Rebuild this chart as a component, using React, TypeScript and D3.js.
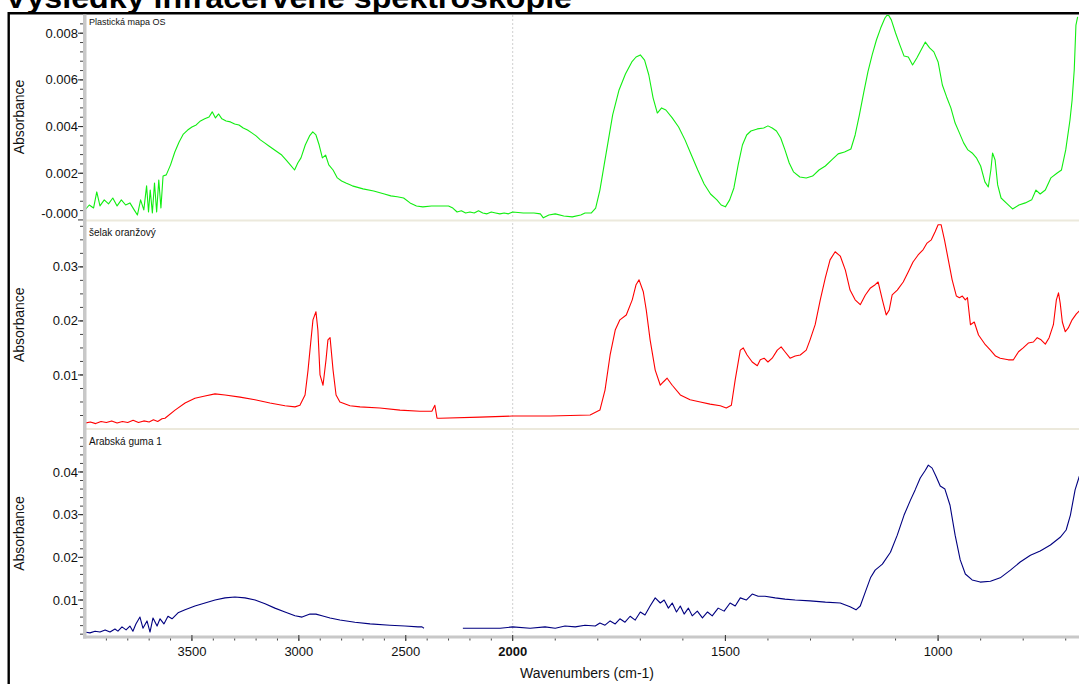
import * as d3 from 'd3';

const chartTitle = 'Výsledky infračervené spektroskopie';
const xAxisTitle = 'Wavenumbers (cm-1)';
const yAxisTitle = 'Absorbance';
const panelNames = ['Plastická mapa OS', 'šelak oranžový', 'Arabská guma 1'];

// wavenumber axis has a scale break at 2000 (left side is compressed 2x)
const wavenumberDomain = [4000, 2000, 650];
const wavenumberTicks = [3500, 3000, 2500, 2000, 1500, 1000];

const plasticLimits = [0.00004, 0.00878];
const plasticTicks = [0, 0.002, 0.004, 0.006, 0.008];
const plasticTickLabels = ['-0.000', '0.002', '0.004', '0.006', '0.008'];

const shellacLimits = [0.00028, 0.0383];
const shellacTicks = [0.01, 0.02, 0.03];
const shellacTickLabels = ['0.01', '0.02', '0.03'];

const gumLimits = [0.00157, 0.0496];
const gumTicks = [0.01, 0.02, 0.03, 0.04];
const gumTickLabels = ['0.01', '0.02', '0.03', '0.04'];

const plasticSpectrum: [number, number][] = [
  [4000, 0.00043], [3980, 0.00064], [3960, 0.00051], [3945, 0.0012], [3930, 0.0006], [3910, 0.00086],
  [3890, 0.00069], [3870, 0.00094], [3850, 0.0006], [3830, 0.00086], [3810, 0.00064], [3790, 0.00073],
  [3770, 0.00043], [3755, 0.00021], [3740, 0.00086], [3725, 0.00043], [3712, 0.00146], [3703, 0.00034],
  [3695, 0.00128], [3685, 0.0003], [3675, 0.00158], [3665, 0.00034], [3655, 0.00171], [3645, 0.00051],
  [3635, 0.00188], [3620, 0.00193], [3600, 0.00236], [3580, 0.00291], [3560, 0.00334], [3540, 0.00368],
  [3520, 0.00385], [3500, 0.00398], [3480, 0.00407], [3460, 0.00424], [3440, 0.00433], [3420, 0.00441],
  [3405, 0.00463], [3390, 0.00437], [3375, 0.00454], [3360, 0.00433], [3340, 0.00424], [3320, 0.0042],
  [3300, 0.00411], [3280, 0.00407], [3260, 0.00394], [3240, 0.00385], [3220, 0.00373], [3200, 0.0036],
  [3180, 0.00343], [3160, 0.0033], [3140, 0.00317], [3120, 0.00304], [3100, 0.00291], [3080, 0.00278],
  [3060, 0.00257], [3040, 0.00236], [3020, 0.00214], [3005, 0.00244], [2990, 0.00266], [2970, 0.00321],
  [2950, 0.0036], [2935, 0.00377], [2920, 0.00364], [2905, 0.00321], [2890, 0.00266], [2875, 0.00278],
  [2860, 0.00236], [2840, 0.00214], [2820, 0.0018], [2800, 0.00167], [2780, 0.00158], [2750, 0.00146],
  [2700, 0.00133], [2650, 0.00124], [2600, 0.00111], [2570, 0.00103], [2540, 0.00099], [2510, 0.00094],
  [2480, 0.00073], [2450, 0.0006], [2420, 0.00056], [2380, 0.0006], [2340, 0.0006], [2300, 0.0006],
  [2280, 0.00051], [2260, 0.00034], [2240, 0.00039], [2220, 0.0003], [2200, 0.00034], [2180, 0.0003],
  [2160, 0.00039], [2140, 0.0003], [2120, 0.00026], [2100, 0.00034], [2080, 0.0003], [2060, 0.00026],
  [2040, 0.0003], [2020, 0.00026], [2000, 0.00034], [1975, 0.0003], [1950, 0.0003], [1935, 0.00026],
  [1928, 0.00009], [1915, 0.00021], [1900, 0.00026], [1880, 0.00017], [1860, 0.00013], [1840, 0.00021],
  [1830, 0.0003], [1815, 0.0003], [1805, 0.00051], [1795, 0.00128], [1785, 0.00236], [1775, 0.00343],
  [1765, 0.0045], [1750, 0.00557], [1735, 0.00625], [1720, 0.00677], [1710, 0.00698], [1700, 0.00707],
  [1690, 0.00685], [1680, 0.00621], [1670, 0.00523], [1660, 0.00458], [1650, 0.0048], [1640, 0.00471],
  [1625, 0.00437], [1610, 0.00398], [1595, 0.00343], [1580, 0.00278], [1565, 0.00214], [1550, 0.00154],
  [1535, 0.00111], [1520, 0.00086], [1510, 0.00064], [1500, 0.00056], [1490, 0.00086], [1480, 0.00137],
  [1470, 0.00236], [1460, 0.00321], [1450, 0.00364], [1440, 0.00381], [1425, 0.0039], [1410, 0.00394],
  [1400, 0.00403], [1390, 0.00394], [1380, 0.00381], [1370, 0.00351], [1360, 0.003], [1350, 0.00244],
  [1340, 0.00206], [1325, 0.00184], [1310, 0.0018], [1295, 0.00188], [1280, 0.00214], [1265, 0.00231],
  [1250, 0.00257], [1235, 0.00283], [1220, 0.00291], [1205, 0.00304], [1195, 0.00364], [1185, 0.0045],
  [1175, 0.00544], [1165, 0.00634], [1155, 0.00707], [1145, 0.00771], [1135, 0.00822], [1125, 0.00865],
  [1118, 0.00882], [1110, 0.00857], [1100, 0.00801], [1090, 0.0075], [1080, 0.00702], [1070, 0.00698],
  [1060, 0.00664], [1050, 0.00694], [1040, 0.00728], [1030, 0.00762], [1020, 0.00737], [1010, 0.0072],
  [1000, 0.00677], [990, 0.00578], [980, 0.00527], [970, 0.0048], [960, 0.00415], [950, 0.00373],
  [940, 0.0033], [930, 0.003], [920, 0.00287], [910, 0.00266], [900, 0.00231], [890, 0.00163],
  [882, 0.00141], [876, 0.00214], [872, 0.00287], [866, 0.00257], [860, 0.0015], [852, 0.00094],
  [840, 0.00073], [825, 0.00047], [810, 0.00064], [795, 0.00073], [780, 0.00086], [770, 0.00128],
  [760, 0.00111], [748, 0.00128], [735, 0.0018], [720, 0.00201], [710, 0.00214], [700, 0.003],
  [690, 0.00428], [685, 0.00514], [680, 0.00642], [676, 0.00835], [672, 0.0087],
];

const shellacSpectrum: [number, number][] = [
  [4000, 0.0011], [3975, 0.0013], [3950, 0.001], [3925, 0.0014], [3900, 0.0012], [3875, 0.0015],
  [3850, 0.0011], [3825, 0.0014], [3800, 0.0012], [3775, 0.0016], [3750, 0.0012], [3725, 0.0015],
  [3700, 0.0013], [3680, 0.0017], [3660, 0.0014], [3640, 0.0019], [3626, 0.002], [3579, 0.0035],
  [3532, 0.0048], [3486, 0.0057], [3439, 0.0061], [3392, 0.0065], [3345, 0.0063], [3275, 0.0059],
  [3205, 0.0054], [3135, 0.0048], [3065, 0.0043], [3018, 0.0041], [2995, 0.0044], [2971, 0.0063],
  [2957, 0.0109], [2948, 0.0146], [2934, 0.0202], [2920, 0.0217], [2911, 0.0183], [2901, 0.01],
  [2887, 0.0081], [2873, 0.0128], [2864, 0.0165], [2854, 0.0169], [2840, 0.0109], [2826, 0.0063],
  [2808, 0.005], [2761, 0.0043], [2714, 0.0041], [2621, 0.0039], [2527, 0.0035], [2434, 0.0033],
  [2378, 0.0033], [2364, 0.0044], [2354, 0.002], [2340, 0.002], [2153, 0.0022], [2003, 0.0024],
  [1912, 0.0024], [1818, 0.0026], [1795, 0.0035], [1783, 0.0072], [1771, 0.0137], [1759, 0.0183],
  [1748, 0.0202], [1733, 0.0211], [1719, 0.0239], [1710, 0.0267], [1703, 0.0276], [1693, 0.0254],
  [1686, 0.022], [1677, 0.0165], [1665, 0.0109], [1653, 0.0081], [1646, 0.0087], [1637, 0.0094],
  [1625, 0.0081], [1606, 0.0063], [1583, 0.0054], [1559, 0.005], [1536, 0.0046], [1512, 0.0043],
  [1498, 0.0039], [1486, 0.0044], [1477, 0.0091], [1465, 0.0146], [1458, 0.015], [1449, 0.0137],
  [1437, 0.0124], [1425, 0.0117], [1418, 0.0128], [1409, 0.0131], [1400, 0.0124], [1390, 0.0131],
  [1378, 0.0146], [1369, 0.0152], [1360, 0.0143], [1348, 0.0131], [1336, 0.0135], [1324, 0.0137],
  [1310, 0.0146], [1301, 0.0165], [1289, 0.0193], [1277, 0.0239], [1265, 0.028], [1254, 0.0313],
  [1242, 0.0328], [1230, 0.032], [1218, 0.0294], [1207, 0.0257], [1195, 0.0239], [1183, 0.023],
  [1171, 0.0248], [1159, 0.0261], [1148, 0.0267], [1141, 0.0272], [1131, 0.0239], [1122, 0.0211],
  [1115, 0.022], [1108, 0.0248], [1096, 0.0257], [1082, 0.0272], [1070, 0.0291], [1059, 0.0309],
  [1047, 0.0322], [1035, 0.0332], [1026, 0.0344], [1016, 0.035], [1007, 0.0365], [1000, 0.0378],
  [993, 0.0378], [985, 0.035], [976, 0.0313], [967, 0.0276], [957, 0.0246], [950, 0.0243],
  [943, 0.0246], [936, 0.0239], [931, 0.0243], [924, 0.0193], [915, 0.0198], [905, 0.0174],
  [889, 0.0156], [877, 0.0146], [865, 0.0135], [854, 0.0131], [835, 0.0128], [823, 0.0128],
  [811, 0.0143], [800, 0.015], [788, 0.0159], [776, 0.0161], [767, 0.0169], [758, 0.0165],
  [748, 0.0157], [739, 0.0169], [729, 0.0193], [722, 0.0239], [717, 0.0252], [713, 0.0233],
  [708, 0.0198], [701, 0.018], [694, 0.0187], [685, 0.0202], [675, 0.0213], [666, 0.022], [650, 0.0228],
];

// null marks the gap in the recorded spectrum
const gumSpectrum: [number, number | null][] = [
  [4000, 0.0025], [3977, 0.0023], [3953, 0.0027], [3930, 0.0025], [3906, 0.003], [3883, 0.0025],
  [3860, 0.0032], [3846, 0.0027], [3827, 0.0037], [3808, 0.003], [3790, 0.0039], [3776, 0.0027],
  [3762, 0.0044], [3743, 0.006], [3729, 0.0034], [3710, 0.0051], [3696, 0.0025], [3682, 0.0058],
  [3663, 0.0039], [3649, 0.0056], [3631, 0.0044], [3612, 0.0062], [3593, 0.0056], [3565, 0.007],
  [3532, 0.0077], [3486, 0.0086], [3439, 0.0093], [3392, 0.01], [3345, 0.0105], [3299, 0.0107],
  [3252, 0.0105], [3205, 0.01], [3158, 0.0091], [3112, 0.0081], [3065, 0.0072], [3018, 0.0063],
  [2985, 0.006], [2948, 0.0067], [2920, 0.0067], [2892, 0.0063], [2854, 0.0058], [2808, 0.0053],
  [2738, 0.0048], [2667, 0.0044], [2574, 0.0041], [2504, 0.0039], [2443, 0.0037], [2424, 0.0037],
  [2415, 0.0034], [2320, null], [2233, 0.0034], [2153, 0.0034], [2059, 0.0034], [2000, 0.0037],
  [1959, 0.0034], [1924, 0.0037], [1900, 0.0034], [1877, 0.0039], [1853, 0.0037], [1830, 0.0041],
  [1806, 0.0039], [1795, 0.0046], [1783, 0.0041], [1771, 0.0051], [1759, 0.0044], [1748, 0.0056],
  [1736, 0.0048], [1724, 0.0062], [1712, 0.0053], [1700, 0.0072], [1689, 0.0065], [1677, 0.0086],
  [1665, 0.0105], [1653, 0.0093], [1644, 0.01], [1634, 0.0081], [1625, 0.0093], [1615, 0.0072],
  [1606, 0.0086], [1597, 0.0067], [1587, 0.0081], [1578, 0.0063], [1566, 0.0074], [1554, 0.0058],
  [1542, 0.0072], [1531, 0.0063], [1517, 0.0081], [1503, 0.0074], [1489, 0.0093], [1477, 0.0086],
  [1465, 0.0105], [1451, 0.01], [1437, 0.0114], [1423, 0.0109], [1407, 0.0109], [1383, 0.0105],
  [1360, 0.0102], [1336, 0.01], [1301, 0.0098], [1265, 0.0095], [1230, 0.0093], [1207, 0.0084],
  [1193, 0.0077], [1183, 0.0086], [1171, 0.0119], [1159, 0.0152], [1148, 0.017], [1131, 0.0184],
  [1112, 0.0212], [1096, 0.0252], [1080, 0.0299], [1065, 0.0334], [1054, 0.0358], [1042, 0.0386],
  [1030, 0.0404], [1023, 0.0416], [1014, 0.0409], [1005, 0.039], [995, 0.0367], [984, 0.036],
  [972, 0.0322], [960, 0.0252], [948, 0.0194], [936, 0.0161], [920, 0.0147], [901, 0.0142],
  [877, 0.0144], [854, 0.0152], [830, 0.017], [807, 0.0189], [783, 0.0205], [760, 0.0215],
  [736, 0.0229], [713, 0.0247], [699, 0.0264], [689, 0.0299], [678, 0.0358], [668, 0.039], [650, 0.0404],
];

const W = 1079;
const H = 684;
const font = 'Liberation Sans, Arial, Helvetica, sans-serif';
const plotLeft = 85;
const axisY = 636;

const panels = [
  { name: panelNames[0], data: plasticSpectrum, limits: plasticLimits, ticks: plasticTicks, labels: plasticTickLabels, minor: 0.0004, color: '#11ee11', top: 15, bottom: 219 },
  { name: panelNames[1], data: shellacSpectrum, limits: shellacLimits, ticks: shellacTicks, labels: shellacTickLabels, minor: 0.0025, color: '#ff0000', top: 222, bottom: 427.5 },
  { name: panelNames[2], data: gumSpectrum, limits: gumLimits, ticks: gumTicks, labels: gumTickLabels, minor: 0.002, color: '#000080', top: 431, bottom: axisY },
];

export default function App() {
  const x = d3.scaleLinear().domain(wavenumberDomain).range([plotLeft, 512.7, 1087]);
  const minorX = d3.range(3900, 600, -100);

  return (
    <svg width={W} height={H} style={{ position: 'absolute', left: 0, top: 0, background: '#fff' }} fontFamily={font}>
      <defs>
        {panels.map((p, i) => (
          <clipPath id={`clip${i}`} key={i}>
            <rect x={plotLeft + 1} y={p.top} width={W} height={p.bottom - p.top} />
          </clipPath>
        ))}
      </defs>

      <text x={5} y={8} fontSize={30} fontWeight="bold" textLength={567} lengthAdjust="spacingAndGlyphs">{chartTitle}</text>

      {/* frame */}
      <line x1={8} x2={W} y1={13.3} y2={13.3} stroke="#000" strokeWidth={2.4} />
      <line x1={8.7} x2={8.7} y1={12} y2={H} stroke="#000" strokeWidth={2.4} />

      {/* 2000 marker */}
      <line x1={x(2000)} x2={x(2000)} y1={15} y2={axisY} stroke="#cfcfcf" strokeDasharray="2,2" />

      {panels.map((p, i) => {
        const y = d3.scaleLinear().domain(p.limits).range([p.bottom, p.top]);
        const line = d3.line<[number, number | null]>()
          .defined((d) => d[1] !== null)
          .x((d) => x(d[0]))
          .y((d) => y(d[1] as number));
        const minors = d3.range(0, p.limits[1], p.minor).filter((v) => v >= p.limits[0]);
        const mid = (p.top + p.bottom) / 2;
        return (
          <g key={i}>
            {i < 2 && <rect x={plotLeft + 1} y={p.bottom + 0.5} width={W} height={2} fill="#ece9dc" />}
            {minors.map((v, k) => (
              <line key={k} x1={80} x2={83} y1={y(v)} y2={y(v)} stroke="#444" strokeWidth={1} />
            ))}
            {p.ticks.map((v, k) => {
              const ty = y(v);
              const ly = Math.min(Math.max(ty, p.top + 7), p.bottom - 6);
              return (
                <g key={k}>
                  <line x1={78} x2={83} y1={ty} y2={ty} stroke="#333" strokeWidth={1} />
                  <text x={78} y={ly} dy="0.35em" textAnchor="end" fontSize={13} fill="#111">{p.labels[k]}</text>
                </g>
              );
            })}
            <text transform={`translate(24,${mid}) rotate(-90)`} textAnchor="middle" fontSize={14} fill="#111">{yAxisTitle}</text>
            <text x={89} y={p.top + (i === 0 ? 10 : 14)} fontSize={i === 0 ? 9 : 10} fill="#111">{p.name}</text>
            <path d={line(p.data) || ''} fill="none" stroke={p.color} strokeWidth={1.1} strokeLinejoin="round" clipPath={`url(#clip${i})`} />
          </g>
        );
      })}

      {/* y axis band */}
      <rect x={83} y={14.5} width={3.5} height={axisY + 2.5 - 14.5} fill="#c8c8c8" />
      {/* x axis band */}
      <rect x={83} y={axisY - 0.5} width={W} height={3} fill="#c8c8c8" />
      {minorX.map((v) => (
        <line key={v} x1={x(v)} x2={x(v)} y1={axisY + 2.5} y2={axisY + 4.5} stroke="#444" />
      ))}
      {wavenumberTicks.map((v) => (
        <g key={v}>
          <line x1={x(v)} x2={x(v)} y1={axisY - 1} y2={axisY + 5} stroke="#333" />
          <text x={x(v)} y={axisY + 20} textAnchor="middle" fontSize={13} fontWeight={v === 2000 ? 'bold' : 'normal'} fill="#111">{v}</text>
        </g>
      ))}
      <text x={587} y={678} textAnchor="middle" fontSize={14} fill="#111">{xAxisTitle}</text>
    </svg>
  );
}
